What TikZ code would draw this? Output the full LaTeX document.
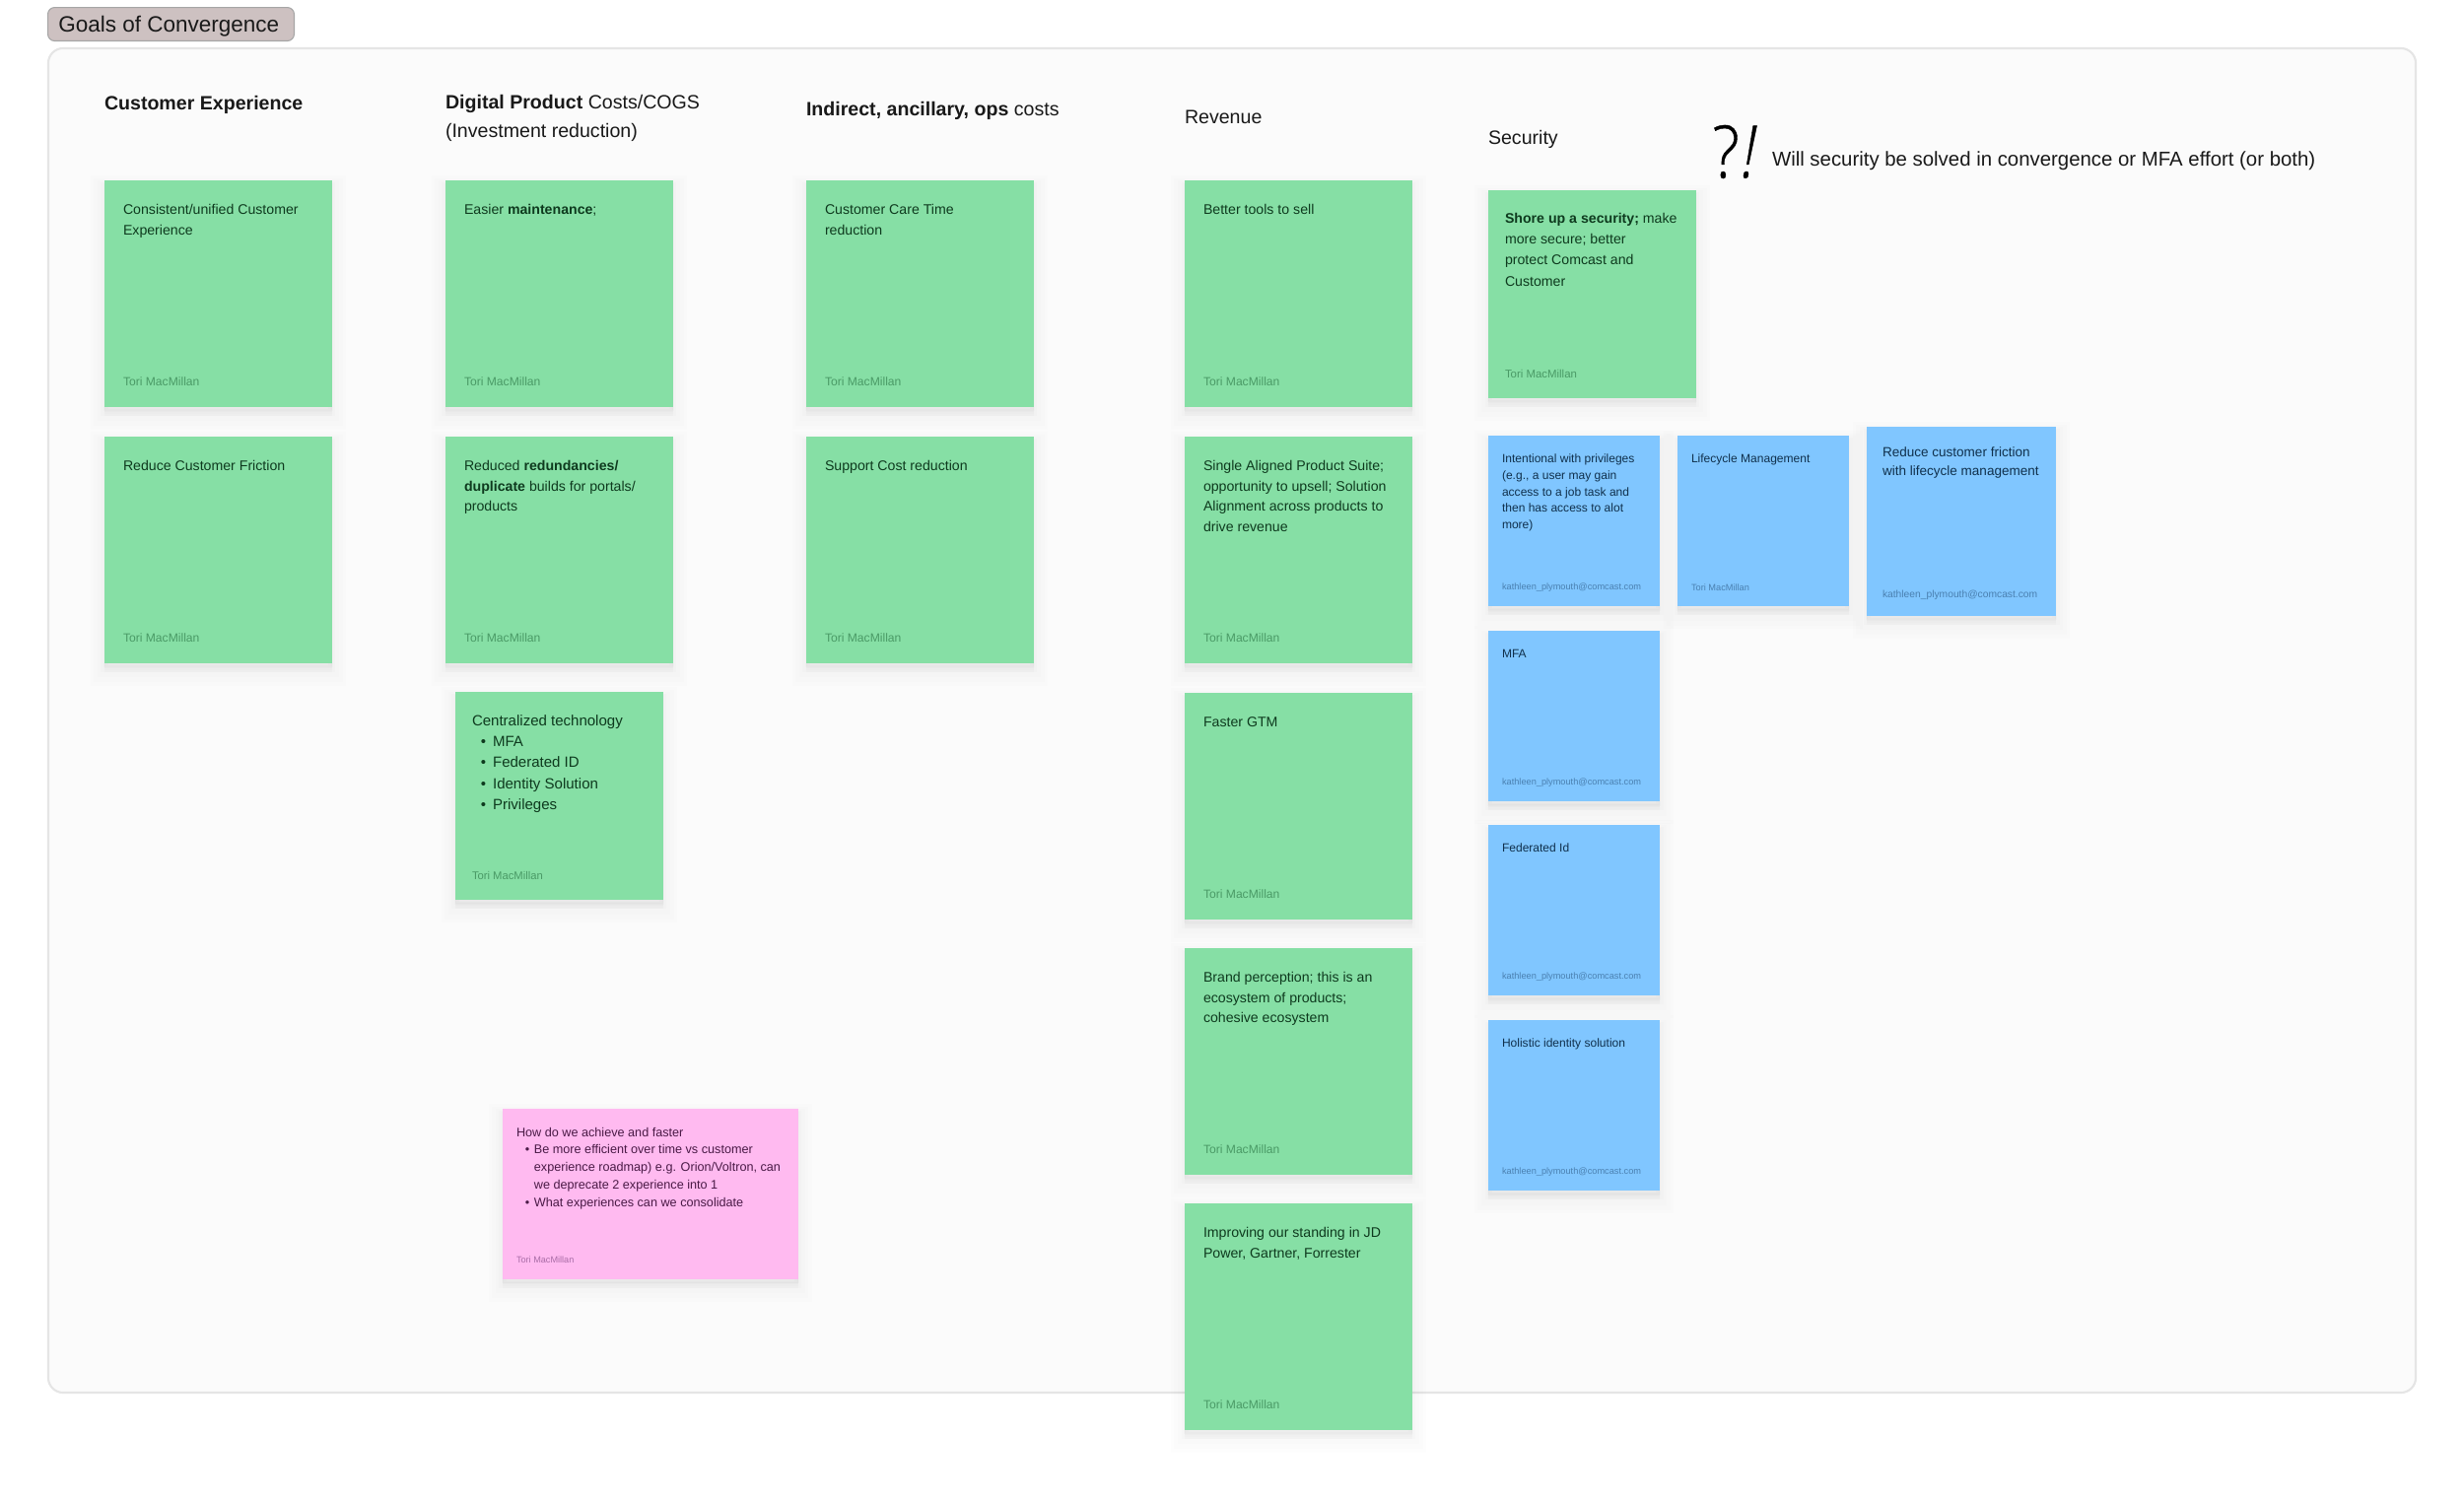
\documentclass[tikz,border=0pt]{standalone}
\usepackage{fontspec}
\setmainfont{Liberation Sans}
\newfontfamily\inkfont[FakeBold=0.6]{Open Sans Light}
\usetikzlibrary{positioning}
\definecolor{noteGreen}{HTML}{86DFA5}
\definecolor{noteBlue}{HTML}{80C6FF}
\definecolor{notePink}{HTML}{FFBAF0}
\definecolor{inkGreen}{HTML}{0E3A1E}
\definecolor{byGreen}{HTML}{4A9A66}
\definecolor{inkBlue}{HTML}{10304C}
\definecolor{byBlue}{HTML}{4A80B0}
\definecolor{inkPink}{HTML}{4A1A46}
\definecolor{byPink}{HTML}{A86CA6}
\definecolor{titleFill}{HTML}{CDC1C1}
\newcommand{\bulline}[2][5pt]{\hspace*{#1}\makebox[#2][l]{\textbullet}}
\tikzset{
  sticky/.style={rectangle, inner sep=0pt, outer sep=0pt, anchor=north west,
    preaction={draw=black, fill=black, opacity=.006, line width=16pt, transform canvas={yshift=-5pt}},
    preaction={draw=black, fill=black, opacity=.007, line width=12pt, transform canvas={yshift=-5pt}},
    preaction={draw=black, fill=black, opacity=.008, line width=8pt, transform canvas={yshift=-4pt}},
    preaction={draw=black, fill=black, opacity=.01, line width=4pt, transform canvas={yshift=-3pt}},
    preaction={draw=black, fill=black, opacity=.012, line width=1pt, transform canvas={yshift=-2pt}}},
  greennote/.style={sticky, fill=noteGreen, minimum width=4.62cm, minimum height=4.6cm},
  secnote/.style={sticky, fill=noteGreen, minimum width=4.22cm, minimum height=4.22cm},
  bluenote/.style={sticky, fill=noteBlue, minimum width=3.48cm, minimum height=3.47cm},
  notetext/.style={inner sep=0pt, outer sep=0pt, anchor=north west, align=left},
  greentext/.style={notetext, text=inkGreen, font=\fontsize{8.05}{11.66}\selectfont},
  bluetext/.style={notetext, text=inkBlue, font=\fontsize{6.85}{9.6}\selectfont},
  bytext/.style={inner sep=0pt, outer sep=0pt, anchor=west},
  greenby/.style={bytext, text=byGreen, font=\fontsize{6.9}{8}\selectfont},
  blueby/.style={bytext, text=byBlue, font=\fontsize{5.25}{8}\selectfont},
  heading/.style={notetext, text=black!90, font=\fontsize{11.15}{16.5}\selectfont}
}
\begin{document}
\begin{tikzpicture}[x=0.02cm, y=-0.02cm]
  \useasboundingbox (0,0) rectangle (2500,1522);
  \fill[white] (0,0) rectangle (2500,1522);
  % board
  \draw[draw=black!10, fill=black!1.5, line width=1.2pt, rounded corners=0.3cm] (49,49) rectangle (2451,1413);
  \node[anchor=north west, inner sep=0pt, minimum width=5cm, minimum height=0.68cm, rounded corners=0.14cm, draw=black!35, fill=titleFill, line width=0.6pt] (titlebox) at (48,7) {};
  \node[right=0.22cm of titlebox.west, anchor=west, inner sep=0pt, yshift=-0.05cm, text=black!90, font=\fontsize{12.8}{15}\selectfont] (title) {Goals of Convergence};
  % column headings
  \foreach \n/\x/\y/\t in {exp/106/91/{\textbf{Customer Experience}},
      dig/452/90/{\textbf{Digital Product} Costs/COGS\\(Investment reduction)},
      ind/818/97/{\textbf{Indirect, ancillary, ops} costs},
      rev/1202/105/{Revenue},
      sec/1510/126/{Security}} {
    \node[heading] (\n) at (\x,\y) {\strut\t};
  }
  \node[notetext, font=\fontsize{11.6}{16}\selectfont, text=black!90] (question) at (1798,149) {\strut Will security be solved in convergence or MFA effort (or both)};
  \node[inner sep=0pt, font=\inkfont\fontsize{42}{44}\selectfont, xscale=.88] (ink) at (1760,154) {?\hspace{1pt}\textit{!}};
  % green notes
  \foreach \n/\x/\y/\t in {exp1/106/183/{Consistent/unified Customer\\Experience},
      exp2/106/443/{Reduce Customer Friction},
      dig1/452/183/{Easier \textbf{maintenance};},
      dig2/452/443/{Reduced \textbf{redundancies/}\\\textbf{duplicate} builds for portals/\\products},
      ind1/818/183/{Customer Care Time\\reduction},
      ind2/818/443/{Support Cost reduction},
      rev1/1202/183/{Better tools to sell},
      rev2/1202/443/{Single Aligned Product Suite;\\opportunity to upsell; Solution\\Alignment across products to\\drive revenue},
      rev3/1202/703/{Faster GTM},
      rev4/1202/962/{Brand perception; this is an\\ecosystem of products;\\cohesive ecosystem},
      rev5/1202/1221/{Improving our standing in JD\\Power, Gartner, Forrester}} {
    \node[greennote] (\n) at (\x,\y) {};
    \node[greentext] (\n-text) at ([shift={(19,20.5)}]\n.north west) {\strut\t};
    \node[greenby] (\n-by) at ([shift={(19,-26)}]\n.south west) {Tori MacMillan};
  }
  \node[sticky, fill=noteGreen, minimum width=4.22cm, minimum height=4.23cm] (dig3) at (462,702) {};
  \node[greentext, font=\fontsize{8.55}{12.2}\selectfont] (dig3-text) at ([shift={(17,19)}]dig3.north west) {\strut Centralized technology\\
    \bulline{7pt}MFA\\ \bulline{7pt}Federated ID\\ \bulline{7pt}Identity Solution\\ \bulline{7pt}Privileges};
  \node[greenby, font=\fontsize{6.4}{8}\selectfont] (dig3-by) at ([shift={(17,-25)}]dig3.south west) {Tori MacMillan};
  \node[secnote] (sec1) at (1510,193) {};
  \node[greentext, font=\fontsize{8.05}{12.2}\selectfont] (sec1-text) at ([shift={(17,18)}]sec1.north west) {\strut\textbf{Shore up a security;} make\\more secure; better\\protect Comcast and\\Customer};
  \node[greenby, font=\fontsize{6.5}{8}\selectfont] (sec1-by) at ([shift={(17,-25)}]sec1.south west) {Tori MacMillan};
  % blue notes
  \foreach \n/\x/\y/\t/\b in {sec2/1510/442/{Intentional with privileges\\(e.g., a user may gain\\access to a job task and\\then has access to alot\\more)}/{kathleen\_plymouth@comcast.com},
      sec3/1702/442/{Lifecycle Management}/{Tori MacMillan},
      sec5/1510/640/{MFA}/{kathleen\_plymouth@comcast.com},
      sec6/1510/837/{Federated Id}/{kathleen\_plymouth@comcast.com},
      sec7/1510/1035/{Holistic identity solution}/{kathleen\_plymouth@comcast.com}} {
    \node[bluenote] (\n) at (\x,\y) {};
    \node[bluetext] (\n-text) at ([shift={(14,15.5)}]\n.north west) {\strut\t};
    \node[blueby] (\n-by) at ([shift={(14,-19)}]\n.south west) {\b};
  }
  \node[sticky, fill=noteBlue, minimum width=3.84cm, minimum height=3.84cm] (sec4) at (1894,433) {};
  \node[bluetext, font=\fontsize{7.7}{11}\selectfont] (sec4-text) at ([shift={(16,17)}]sec4.north west) {\strut Reduce customer friction\\with lifecycle management};
  \node[blueby, font=\fontsize{5.85}{8}\selectfont] (sec4-by) at ([shift={(16,-21)}]sec4.south west) {kathleen\_plymouth@comcast.com};
  % pink note
  \node[sticky, fill=notePink, minimum width=6cm, minimum height=3.46cm] (how) at (510,1125) {};
  \node[notetext, text=inkPink, font=\fontsize{7.2}{10.2}\selectfont] (how-text) at ([shift={(14,15.5)}]how.north west) {\strut How do we achieve and faster\\
    \bulline{5.2pt}Be more efficient over time vs customer\\
    \hspace*{10.2pt}experience roadmap) e.g. Orion/Voltron, can\\
    \hspace*{10.2pt}we deprecate 2 experience into 1\\
    \bulline{5.2pt}What experiences can we consolidate};
  \node[bytext, text=byPink, font=\fontsize{5.2}{7}\selectfont] (how-by) at ([shift={(14,-20)}]how.south west) {Tori MacMillan};
\end{tikzpicture}
\end{document}
